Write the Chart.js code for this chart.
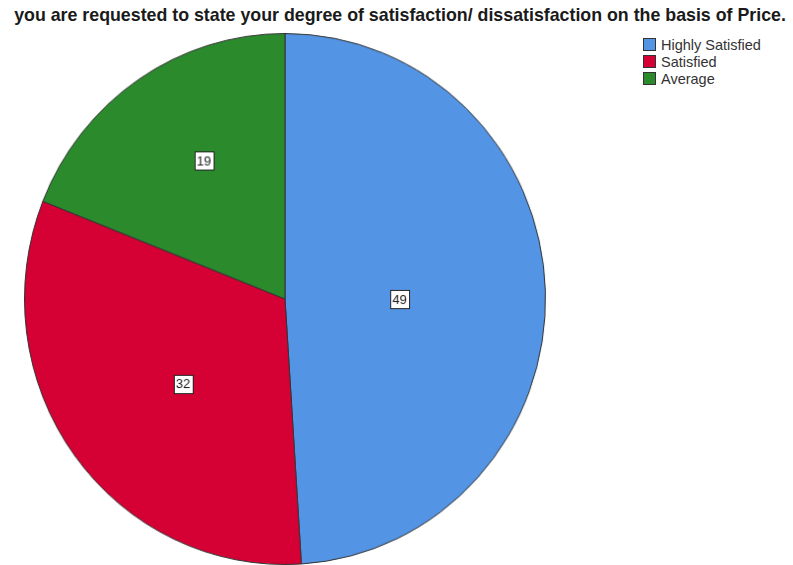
<!DOCTYPE html>
<html>
<head>
<meta charset="utf-8">
<script src="https://cdn.jsdelivr.net/npm/chart.js@4/dist/chart.umd.min.js"></script>
<style>
  html, body { margin: 0; padding: 0; background: #fff; }
  body { width: 793px; height: 565px; position: relative; overflow: hidden; font-family: "Liberation Sans", Arial, sans-serif; }
  #title { position: absolute; left: 0; top: 5px; width: 800px; text-align: center; font-weight: bold; font-size: 17.8px; color: #1a1a1a; white-space: nowrap; }
  #legend { position: absolute; left: 643px; top: 36px; }
  .item { height: 17px; display: flex; align-items: center; font-size: 14.5px; color: #333; }
  .sw { width: 11px; height: 11px; border: 1px solid #333; margin-right: 5px; box-sizing: content-box; }
  #pie { position: absolute; left: 24px; top: 33px; width: 522px; height: 532px; }
</style>
</head>
<body>
<div id="title"></div>
<div id="legend"></div>
<canvas id="pie" width="526" height="526" style="width:522px;height:532px"></canvas>
<script>
const titleText = "you are requested to state your degree of satisfaction/ dissatisfaction on the basis of Price.";
const categories = ["Highly Satisfied", "Satisfied", "Average"];
const values = [49, 32, 19];
const colors = ["#5494E4", "#D50033", "#2A8A2C"];
const labelRadius = [0.44, 0.505, 0.607];
const labelAngleShiftDeg = [1.8, -3.2, 3.3];

document.getElementById('title').textContent = titleText;
const leg = document.getElementById('legend');
categories.forEach((c, i) => {
  const d = document.createElement('div'); d.className = 'item';
  const s = document.createElement('div'); s.className = 'sw'; s.style.background = colors[i];
  const t = document.createElement('span'); t.textContent = c;
  d.appendChild(s); d.appendChild(t); leg.appendChild(d);
});

const boxLabels = {
  id: 'boxLabels',
  afterDatasetsDraw(chart) {
    const ctx = chart.ctx;
    const meta = chart.getDatasetMeta(0);
    ctx.save();
    ctx.font = '13px "Liberation Sans", Arial, sans-serif';
    ctx.textAlign = 'center';
    ctx.textBaseline = 'middle';
    meta.data.forEach((arc, i) => {
      const p = arc.getProps(['x', 'y', 'startAngle', 'endAngle', 'outerRadius'], true);
      const mid = (p.startAngle + p.endAngle) / 2 + labelAngleShiftDeg[i] * Math.PI / 180;
      const r = p.outerRadius * labelRadius[i];
      const x = p.x + Math.cos(mid) * r;
      const y = p.y + Math.sin(mid) * r;
      const txt = String(chart.data.datasets[0].data[i]);
      const w = Math.round(ctx.measureText(txt).width + 5);
      const h = 18;
      const bx = Math.round(x - w / 2) + 0.5, by = Math.round(y - h / 2) + 0.5;
      ctx.fillStyle = '#fff';
      ctx.fillRect(bx, by, w, h);
      ctx.strokeStyle = '#222';
      ctx.lineWidth = 1;
      ctx.strokeRect(bx, by, w, h);
      ctx.fillStyle = '#222';
      ctx.fillText(txt, x, y + 1);
    });
    ctx.restore();
  }
};

new Chart(document.getElementById('pie'), {
  type: 'pie',
  data: {
    labels: categories,
    datasets: [{ data: values, backgroundColor: colors, borderColor: '#333', borderWidth: 1 }]
  },
  options: {
    responsive: false,
    animation: false,
    layout: { padding: 0 },
    plugins: { legend: { display: false }, title: { display: false }, tooltip: { enabled: false } }
  },
  plugins: [boxLabels]
});
</script>
</body>
</html>
